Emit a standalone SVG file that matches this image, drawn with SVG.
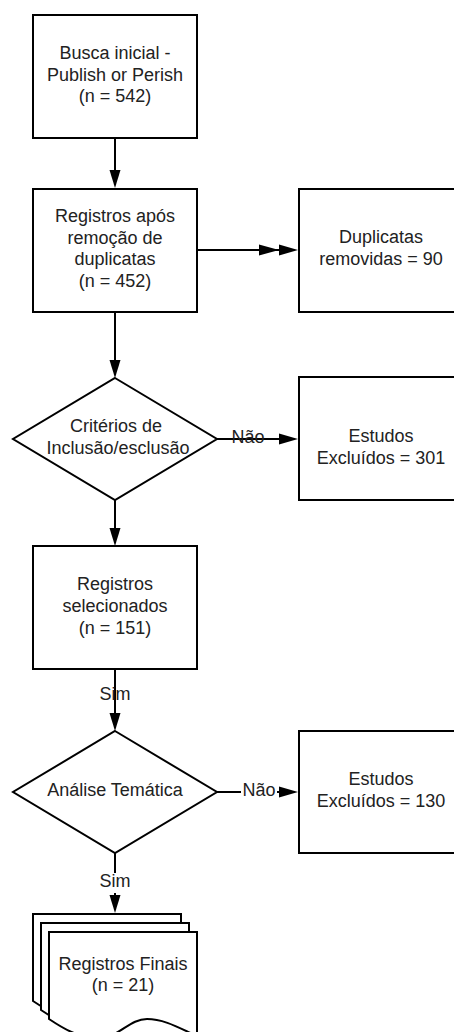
<svg xmlns="http://www.w3.org/2000/svg" width="454" height="1032" viewBox="0 0 454 1032">
<style>
.n{fill:#fff;stroke:#000;stroke-width:2}
.t{font-family:"Liberation Sans",Arial,sans-serif;font-size:18px;fill:#222;text-anchor:middle}
.c{stroke:#000;stroke-width:2;fill:none}
.h{fill:#000;stroke:none}
</style>
<rect width="454" height="1032" fill="#fff"/>
<g id="connectors">
<line class="c" x1="115" y1="138" x2="115" y2="172"/>
<polygon class="h" points="109.5,170 120.5,170 115,188"/>
<line class="c" x1="197" y1="250" x2="283" y2="250"/>
<polygon class="h" points="259,244.5 259,255.5 279,250"/>
<polygon class="h" points="279,244.5 279,255.5 298,250"/>
<line class="c" x1="115" y1="312" x2="115" y2="362"/>
<polygon class="h" points="109.5,360 120.5,360 115,378"/>
<line class="c" x1="217" y1="439" x2="282" y2="439"/>
<polygon class="h" points="279,433.5 279,444.5 298,439"/>
<line class="c" x1="115" y1="500" x2="115" y2="530"/>
<polygon class="h" points="109.5,528 120.5,528 115,546"/>
<line class="c" x1="115" y1="669" x2="115" y2="715"/>
<polygon class="h" points="109.5,713 120.5,713 115,731"/>
<line class="c" x1="217" y1="792" x2="282" y2="792"/>
<polygon class="h" points="279,786.5 279,797.5 298,792"/>
<line class="c" x1="115" y1="853" x2="115" y2="897"/>
<polygon class="h" points="109.5,895 120.5,895 115,913"/>
<text class="t" x="248" y="443">Não</text>
<rect x="241" y="780" width="36" height="22" fill="#fff"/>
<text class="t" x="259" y="796">Não</text>
<text class="t" x="115" y="700">Sim</text>
<rect x="97" y="873" width="36" height="20" fill="#fff"/>
<text class="t" x="115" y="887">Sim</text>
</g>
<g id="busca">
<rect class="n" x="33" y="15" width="164" height="123"/>
<text class="t" x="115" y="59">Busca inicial -</text>
<text class="t" x="115" y="81">Publish or Perish</text>
<text class="t" x="115" y="102">(n = 542)</text>
</g>
<g id="registros-apos">
<rect class="n" x="33" y="189" width="164" height="123"/>
<text class="t" x="115" y="222">Registros após</text>
<text class="t" x="115" y="243.5">remoção de</text>
<text class="t" x="115" y="265">duplicatas</text>
<text class="t" x="115" y="287">(n = 452)</text>
</g>
<g id="duplicatas">
<rect class="n" x="299" y="189" width="164" height="123"/>
<text class="t" x="381" y="243">Duplicatas</text>
<text class="t" x="381" y="265">removidas = 90</text>
</g>
<g id="criterios">
<polygon class="n" points="115,378 217,439 115,500 13,439"/>
<text class="t" x="116" y="432">Critérios de</text>
<text class="t" x="118" y="454">Inclusão/esclusão</text>
</g>
<g id="excluidos-301">
<rect class="n" x="299" y="377" width="164" height="123"/>
<text class="t" x="381" y="442">Estudos</text>
<text class="t" x="381" y="464">Excluídos = 301</text>
</g>
<g id="selecionados">
<rect class="n" x="33" y="546" width="164" height="123"/>
<text class="t" x="115" y="590">Registros</text>
<text class="t" x="115" y="612">selecionados</text>
<text class="t" x="115" y="634">(n = 151)</text>
</g>
<g id="analise">
<polygon class="n" points="115,731 217,792 115,853 13,792"/>
<text class="t" x="115" y="796">Análise Temática</text>
</g>
<g id="excluidos-130">
<rect class="n" x="299" y="731" width="164" height="122"/>
<text class="t" x="381" y="785">Estudos</text>
<text class="t" x="381" y="807">Excluídos = 130</text>
</g>
<defs>
<path id="doc" d="M0,0 H148 V104 C132,97 116,87 98,87 C80,87 70,106 49,106 C30,106 15,97 0,87 Z"/>
</defs>
<g id="registros-finais">
<use href="#doc" class="n" x="33" y="914"/>
<use href="#doc" class="n" x="41" y="923"/>
<use href="#doc" class="n" x="49" y="932"/>
<text class="t" x="123" y="970">Registros Finais</text>
<text class="t" x="123" y="991">(n = 21)</text>
</g>
</svg>
